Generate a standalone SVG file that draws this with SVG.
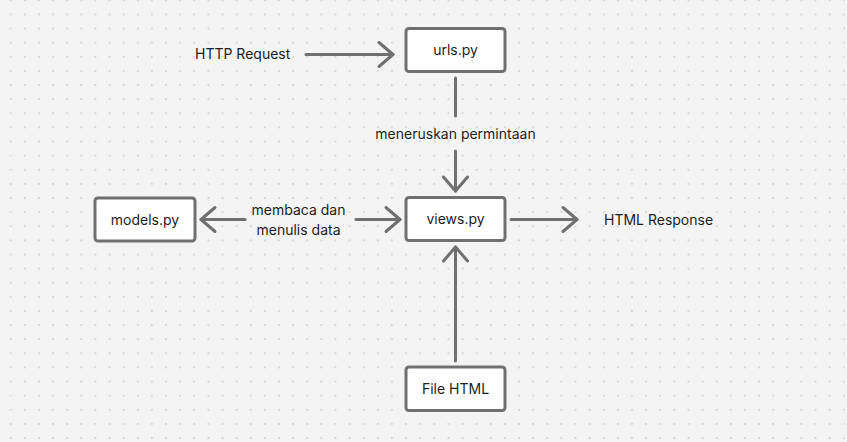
<svg xmlns="http://www.w3.org/2000/svg" width="847" height="442" viewBox="0 0 847 442">
  <defs>
    <pattern id="dots" x="10.7" y="0.3" width="14.12" height="14.12" patternUnits="userSpaceOnUse">
      <rect x="-0.75" y="-0.75" width="1.5" height="1.5" fill="#c6c6c6"/>
      <rect x="13.37" y="-0.75" width="1.5" height="1.5" fill="#c6c6c6"/>
      <rect x="-0.75" y="13.37" width="1.5" height="1.5" fill="#c6c6c6"/>
      <rect x="13.37" y="13.37" width="1.5" height="1.5" fill="#c6c6c6"/>
    </pattern>
    <marker id="chev" markerUnits="userSpaceOnUse" markerWidth="32" markerHeight="32" viewBox="-20 -16 32 32" refX="0" refY="0" orient="auto" overflow="visible">
      <path d="M-14,-12 L0,0 L-14,12" fill="none" stroke="#707070" stroke-width="3" stroke-linecap="round" stroke-linejoin="round"/>
    </marker>
    <style>
      .box { fill: #ffffff; stroke: #707070; stroke-width: 3; }
      .lbl { font-family: Inter, "Liberation Sans", sans-serif; font-size: 14px; fill: #1e1e1e; }
      .mid { text-anchor: middle; }
      .conn { fill: none; stroke: #707070; stroke-width: 3; stroke-linecap: round; }
    </style>
  </defs>
  <rect width="847" height="442" fill="#f4f4f4"/>
  <rect width="847" height="442" fill="url(#dots)"/>

  <g id="connectors">
    <path class="conn" d="M306,54.5 L393,54.5" marker-end="url(#chev)"/>
    <path class="conn" d="M455.5,78 L455.5,116"/>
    <path class="conn" d="M455.5,151 L455.5,191" marker-end="url(#chev)"/>
    <path class="conn" d="M511,219.5 L577,219.5" marker-end="url(#chev)"/>
    <path class="conn" d="M245,219.5 L201,219.5" marker-end="url(#chev)"/>
    <path class="conn" d="M356,219.5 L400,219.5" marker-end="url(#chev)"/>
    <path class="conn" d="M455.5,361 L455.5,247" marker-end="url(#chev)"/>
  </g>

  <g id="label-http-request">
    <text class="lbl" x="195" y="59">HTTP Request</text>
  </g>
  <g id="label-meneruskan">
    <text class="lbl mid" x="455.5" y="139">meneruskan permintaan</text>
  </g>
  <g id="label-membaca">
    <text class="lbl mid" x="298.5" y="214.5">membaca dan</text>
    <text class="lbl mid" x="298.5" y="234.5">menulis data</text>
  </g>
  <g id="label-html-response">
    <text class="lbl" x="604" y="224.5">HTML Response</text>
  </g>

  <g id="node-urls">
    <rect class="box" x="406" y="28.5" width="99" height="43" rx="3"/>
    <text class="lbl mid" x="455.5" y="55">urls.py</text>
  </g>
  <g id="node-views">
    <rect class="box" x="406" y="197.5" width="99" height="43" rx="3"/>
    <text class="lbl mid" x="455.5" y="224">views.py</text>
  </g>
  <g id="node-models">
    <rect class="box" x="95" y="198" width="100" height="43" rx="3"/>
    <text class="lbl mid" x="145" y="225">models.py</text>
  </g>
  <g id="node-file-html">
    <rect class="box" x="406" y="367" width="99" height="43.5" rx="3"/>
    <text class="lbl mid" x="455.5" y="394">File HTML</text>
  </g>
</svg>
